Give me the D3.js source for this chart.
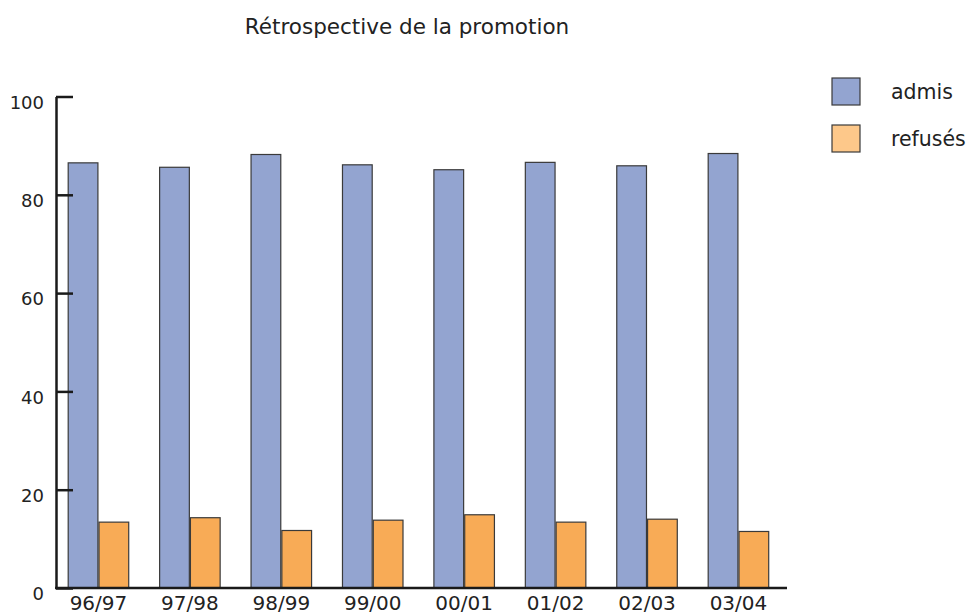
<!DOCTYPE html>
<html>
<head>
<meta charset="utf-8">
<script src="https://cdn.jsdelivr.net/npm/d3@7"></script>
<style>
  body { margin: 0; background: #fff; }
  svg { font-family: "DejaVu Sans", sans-serif; }
</style>
</head>
<body>
<div id="chart"></div>
<script>
// Data
const years = ["96/97", "97/98", "98/99", "99/00", "00/01", "01/02", "02/03", "03/04"];
const seriesNames = ["admis", "refusés"];
const admis = [86.5, 85.6, 88.2, 86.1, 85.1, 86.6, 85.9, 88.4];
const refuses = [13.4, 14.3, 11.7, 13.8, 14.9, 13.4, 14.0, 11.5];
const yTicks = [0, 20, 40, 60, 80, 100];

const barColors = ["#93a4d0", "#f8ab56"];
const legendColors = ["#93a4d0", "#fdc88a"];

const width = 971, height = 614;

const svg = d3.select("#chart").append("svg")
    .attr("width", width)
    .attr("height", height);

// Scales
const x = d3.scaleBand()
    .domain(years)
    .range([56, 787])
    .paddingInner(0.338)
    .paddingOuter(0.1667)
    .align(0.4);

const xSub = d3.scaleBand()
    .domain(seriesNames)
    .range([0, x.bandwidth()])
    .paddingInner(0.035);

const y = d3.scaleLinear()
    .domain([0, 100])
    .range([588, 96.5]);

const color = d3.scaleOrdinal().domain(seriesNames).range(barColors);

// Title
svg.append("text")
    .attr("x", 407)
    .attr("y", 34)
    .attr("text-anchor", "middle")
    .attr("font-size", "21.5px")
    .attr("fill", "#222")
    .text("Rétrospective de la promotion");

// Bars
const rows = years.map((yr, i) => ({ year: yr, values: [admis[i], refuses[i]] }));

const groups = svg.append("g")
    .selectAll("g")
    .data(rows)
    .enter().append("g")
    .attr("transform", d => `translate(${x(d.year)},0)`);

groups.selectAll("rect")
    .data(d => d.values.map((v, j) => ({ key: seriesNames[j], value: v })))
    .enter().append("rect")
    .attr("x", d => xSub(d.key))
    .attr("y", d => y(d.value))
    .attr("width", xSub.bandwidth())
    .attr("height", d => y(0) - y(d.value))
    .attr("fill", d => color(d.key))
    .attr("stroke", "#3a3a3a")
    .attr("stroke-width", 1.2);

// Y axis (ticks pointing inward)
const yAxis = svg.append("g")
    .attr("transform", "translate(56,0)")
    .call(d3.axisLeft(y)
        .tickValues(yTicks)
        .tickSizeInner(-17)
        .tickSizeOuter(0)
        .tickPadding(12));

yAxis.select(".domain").attr("stroke", "#1a1a1a").attr("stroke-width", 2.5);
yAxis.selectAll(".tick line").attr("stroke", "#1a1a1a").attr("stroke-width", 2.5);
yAxis.selectAll(".tick text")
    .attr("font-size", "18px")
    .attr("dy", "0.66em")
    .attr("fill", "#222")
    .attr("font-family", "DejaVu Sans, sans-serif");

// X axis
svg.append("line")
    .attr("x1", 55).attr("x2", 787)
    .attr("y1", y(0)).attr("y2", y(0))
    .attr("stroke", "#1a1a1a")
    .attr("stroke-width", 2.5);

const xAxis = svg.append("g")
    .attr("transform", `translate(0,${y(0)})`)
    .call(d3.axisBottom(x).tickSize(0).tickPadding(8));

xAxis.select(".domain").remove();
xAxis.selectAll(".tick text")
    .attr("font-size", "20px")
    .attr("fill", "#222")
    .attr("font-family", "DejaVu Sans, sans-serif");

// Legend
const legend = svg.append("g")
    .selectAll("g")
    .data(seriesNames)
    .enter().append("g")
    .attr("transform", (d, i) => `translate(832,${78 + i * 47})`);

legend.append("rect")
    .attr("width", 28)
    .attr("height", 27)
    .attr("fill", (d, i) => legendColors[i])
    .attr("stroke", "#3a3a3a")
    .attr("stroke-width", 1.2);

legend.append("text")
    .attr("x", 59)
    .attr("y", 21)
    .attr("font-size", "20.5px")
    .attr("fill", "#222")
    .text(d => d);
</script>
</body>
</html>
